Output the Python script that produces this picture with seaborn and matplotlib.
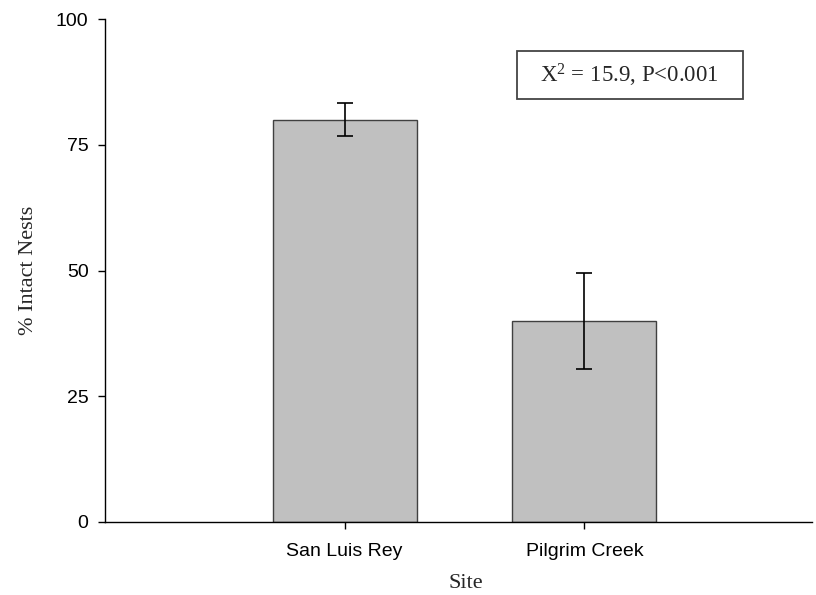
import numpy as np
import pandas as pd
import seaborn as sns
import matplotlib.pyplot as plt
from matplotlib.patches import Rectangle

# data
sites = ['San Luis Rey', 'Pilgrim Creek']
intact_pct = [80.0, 40.0]
err_pct = [3.25, 9.6]
yticks = [0, 25, 50, 75, 100]
stat_text = r'X$^{2}$ = 15.9, P<0.001'

df = pd.DataFrame({'Site': sites, 'Intact': intact_pct})

sns.set_style('ticks')
plt.rcParams['font.family'] = ['Liberation Sans', 'DejaVu Sans']
plt.rcParams['mathtext.fontset'] = 'custom'
plt.rcParams['mathtext.rm'] = 'Liberation Serif'
plt.rcParams['mathtext.it'] = 'Liberation Serif'
plt.rcParams['mathtext.default'] = 'rm'

fig = plt.figure(figsize=(8.16, 5.95), dpi=100)
ax = fig.add_axes([105 / 816, 1 - 522 / 595, (812 - 105) / 816, (522 - 19) / 595])

sns.barplot(data=df, x='Site', y='Intact', color='#C0C0C0', saturation=1,
            edgecolor='#404040', linewidth=1.0, width=0.6, ax=ax)
ax.errorbar(np.arange(len(sites)), intact_pct, yerr=err_pct, fmt='none',
            ecolor='black', elinewidth=1.2, capsize=5.8, capthick=1.2)

ax.set_xlim(-1.0, 1.95)
ax.set_ylim(0, 100)
ax.set_yticks(yticks)
ax.set_yticklabels([str(t) for t in yticks])

for s in ['top', 'right']:
    ax.spines[s].set_visible(False)
for s in ['left', 'bottom']:
    ax.spines[s].set_color('black')
    ax.spines[s].set_linewidth(1.0)

ax.tick_params(axis='y', direction='out', length=4.8, width=1.0, pad=7,
               labelsize=14, colors='black')
ax.tick_params(axis='x', direction='out', length=5, width=1.0, pad=10,
               labelsize=14, colors='black')

ax.set_xlabel('Site', fontsize=16, family='Liberation Serif')
ax.set_ylabel('% Intact Nests', fontsize=16, family='Liberation Serif')
ax.xaxis.set_label_coords(0.511, -0.103)
ax.yaxis.set_label_coords(-0.095, 0.5)

# statistic box
box = Rectangle((517 / 816, 1 - 99 / 595), (743 - 517) / 816, 48 / 595,
                transform=fig.transFigure, facecolor='white',
                edgecolor='#444444', linewidth=1.3)
fig.patches.append(box)
fig.text(629 / 816, 1 - 75 / 595, stat_text, ha='center', va='center',
         fontsize=16.5, family='Liberation Serif')

fig.savefig('out.png', dpi=100)
